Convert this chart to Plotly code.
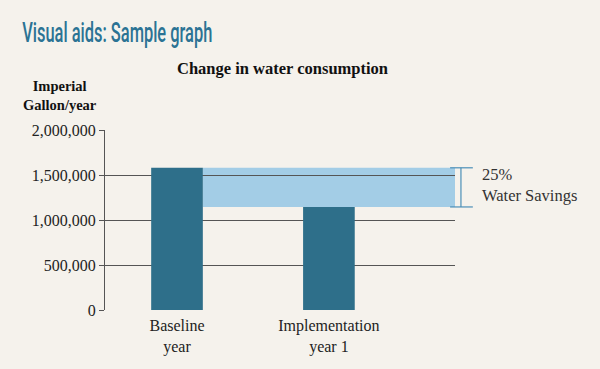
import plotly.graph_objects as go

categories = ["Baseline<br>year", "Implementation<br>year 1"]
consumption = [1580000, 1145000]
y_ticks = [0, 500000, 1000000, 1500000, 2000000]
savings_label = "25%<br>Water Savings"
page_title = "Visual aids: Sample graph"

BG = "#f5f2ec"
BAR = "#2e6f8a"
BAND = "#a3cde6"
BRACKET = "#4b8fb8"
SERIF = "Liberation Serif, DejaVu Serif, serif"

fig = go.Figure()
fig.add_trace(go.Bar(
    x=[0, 1], y=consumption, width=0.34,
    marker=dict(color=BAR, line=dict(width=0)),
    hoverinfo="skip",
))

# savings band from the right edge of the baseline bar to past the plot edge
fig.add_shape(type="rect", layer="below",
              xref="x", yref="y",
              x0=0.17, x1=1.83 + 0.02,
              y0=consumption[1], y1=consumption[0],
              fillcolor=BAND, line=dict(width=0))

# bracket
for yv in consumption:
    fig.add_shape(type="line", xref="paper", yref="y",
                  x0=0.986, x1=1.051, y0=yv, y1=yv,
                  line=dict(color=BRACKET, width=1.2))
fig.add_shape(type="line", xref="paper", yref="y",
              x0=1.017, x1=1.017, y0=consumption[1], y1=consumption[0],
              line=dict(color=BRACKET, width=1.2))

fig.add_annotation(xref="paper", yref="y", x=1.071, y=(consumption[0] + consumption[1]) / 2,
                   yshift=2,
                   text=savings_label, showarrow=False, xanchor="left", yanchor="middle",
                   align="left", font=dict(family=SERIF, size=16.5, color="#333333"))

# page title (centre at ~117px)
fig.add_annotation(xref="paper", yref="paper", x=(117 - 105) / 350, y=1.0,
                   text=page_title, showarrow=False,
                   xanchor="center", yanchor="bottom", yshift=79,
                   font=dict(family="Roboto, sans-serif", size=27, weight=500, color="#2b7394"))
# chart title
fig.add_annotation(xref="paper", yref="paper", x=0.508, y=1.0, yshift=50,
                   text="<b>Change in water consumption</b>", showarrow=False,
                   xanchor="center", yanchor="bottom",
                   font=dict(family=SERIF, size=16.5, color="#111111"))
# y axis title
fig.add_annotation(xref="paper", yref="paper", x=0, xshift=-45, y=1.0, yshift=15,
                   text="<b>Imperial</b><br><b>Gallon/year</b>", showarrow=False,
                   xanchor="center", yanchor="bottom", align="center",
                   font=dict(family=SERIF, size=14.5, color="#111111"))

fig.update_layout(
    width=600, height=369,
    margin=dict(l=105, r=145, t=130, b=59),
    paper_bgcolor=BG, plot_bgcolor=BG,
    showlegend=False,
    xaxis=dict(range=[-0.474, 1.83], tickvals=[0, 1], ticktext=categories,
               showgrid=False, zeroline=False, showline=False, ticks="",
               ticklabelstandoff=4,
               tickfont=dict(family=SERIF, size=16, color="#222222"),
               fixedrange=True),
    yaxis=dict(range=[0, 2000000], tickvals=y_ticks, tickformat=",",
               showgrid=True, gridcolor="#555555", gridwidth=1.3,
               zeroline=False, showline=True, linecolor="#555555", linewidth=1.3,
               ticks="outside", ticklen=5, tickcolor="#555555", tickwidth=1.3,
               tickfont=dict(family=SERIF, size=16, color="#222222"),
               fixedrange=True),
)

post = (
    "document.body.style.margin='0';"
    "document.body.style.background='" + BG + "';"
    "document.querySelectorAll('.annotation-text').forEach(function(t){"
    "  if (t.textContent === '" + page_title + "') {"
    "    t.setAttribute('textLength', '190');"
    "    t.setAttribute('lengthAdjust', 'spacingAndGlyphs');"
    "  }"
    "});"
)

fig.write_html("out.html", config={"displayModeBar": False}, post_script=post)
